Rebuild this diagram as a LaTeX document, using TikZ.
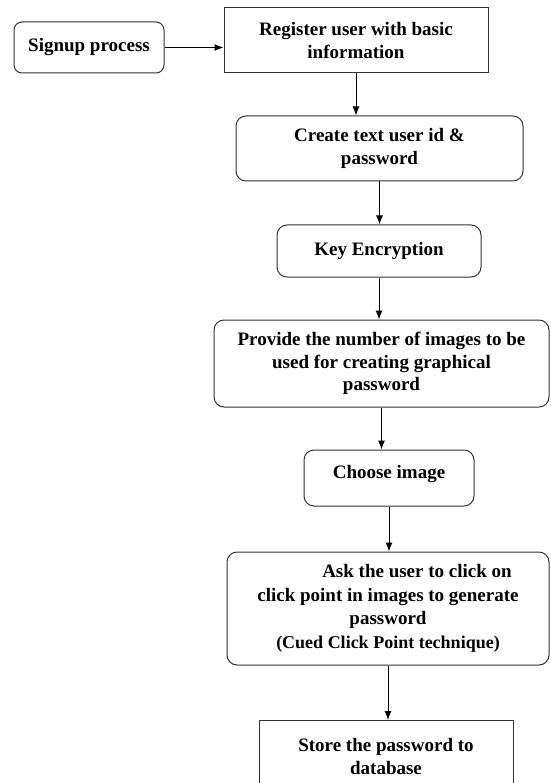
\documentclass[tikz,border=0pt]{standalone}
\usepackage{fontspec}
\setmainfont{Liberation Serif}
\usetikzlibrary{arrows,arrows.meta,positioning}
\tikzset{
  basic/.style  = {draw=black!80, line width=1pt, rectangle, align=center,
                   inner sep=0pt, font=\bfseries\fontsize{19}{22.5}\selectfont},
  plain/.style  = {basic},
  round/.style  = {basic, rounded corners=10pt}
}

\begin{document}
\begin{tikzpicture}[x=1pt, y=-1pt, >={Latex[length=9pt,width=7pt]}]
	\useasboundingbox (0,0) rectangle (550,783);
	
	% start of the signup flow
	\node[round, rounded corners=8pt, minimum width=150pt, minimum height=51pt]
	  (sign) at (89,47.5) {Signup process};
	\node[plain, minimum width=264pt, minimum height=65pt] (reg) at (356,40.5)
	  {Register user with basic\\ information};
	
	% the steps going down
	\node[round, minimum width=287pt, minimum height=65pt] (create) at (379.5,148.5)
	  {Create text user id \&\\ password};
	\node[round, minimum width=204pt, minimum height=52pt] (key) at (379,251)
	  {Key Encryption};
	\node[round, minimum width=335pt, minimum height=87pt] (prov) at (381.5,363.5)
	  {Provide the number of images to be\\ used for creating graphical\\ password};
	\node[round, minimum width=170pt, text height=28pt, text depth=28pt]
	  (choose) at (389,478) {Choose image};
	\node[round, minimum width=322pt, minimum height=113pt,
	      font=\bfseries\fontsize{19}{23.5}\selectfont] (ask) at (388,608.5)
	  {\hspace*{58pt}Ask the user to click on\\ click point in images to generate\\
	   password\\ {\fontsize{18}{23.5}\selectfont (Cued Click Point technique)}};
	\node[plain, anchor=north, minimum width=254pt, minimum height=72pt] (store)
	  at (386,720) {Store the password to\\ database};
	
	% connectors
	\draw[->, line width=1pt] (sign.east) -- (sign.east -| reg.west);
	\foreach \from/\to in {reg/create, create/key, key/prov, prov/choose,
	                       choose/ask, ask/store}
	  \draw[->, line width=1pt] (\from.south) -- (\from.south |- \to.north);
	
\end{tikzpicture}
\end{document}
